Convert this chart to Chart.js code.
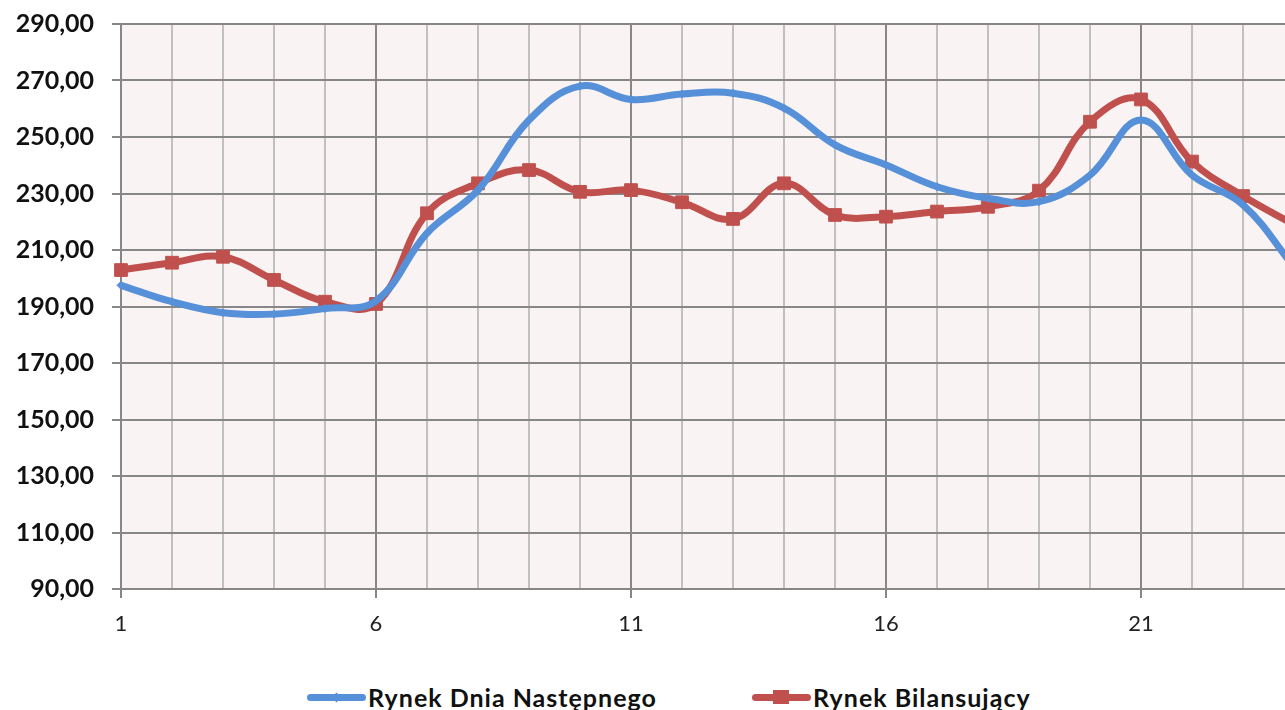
<!DOCTYPE html>
<html>
<head>
<meta charset="utf-8">
<script src="https://cdn.jsdelivr.net/npm/chart.js@4/dist/chart.umd.min.js"></script>
<style>
  html, body { margin: 0; padding: 0; background: #fff; overflow: hidden; }
  #wrap { position: absolute; left: 0; top: 0; width: 1340px; height: 660px; }
  #legend { position: absolute; left: 307px; top: 682px; height: 30px; display: flex;
            font-family: Lato, sans-serif; font-weight: bold; font-size: 25px; letter-spacing: 1px;
            line-height: 30px; color: #111; }
  .item { display: flex; align-items: center; }
  .item:first-child { width: 445px; }
  .sw { position: relative; width: 59px; height: 20px; margin-right: 2px; }
  .sw .ln { position: absolute; left: 0; right: 0; top: 7px; height: 7px; border-radius: 4px; }
  .sw .mk { position: absolute; }
</style>
</head>
<body>
<div id="wrap"><canvas id="lineChart"></canvas></div>
<div id="legend"></div>
<script>
var hours = ["1","2","3","4","5","6","7","8","9","10","11","12","13","14","15","16","17","18","19","20","21","22","23","24"];
var rdnValues = [197.5, 191.7, 187.8, 187.3, 189.3, 192.0, 216.0, 231.2, 256.0, 268.0, 263.3, 265.2, 265.5, 260.2, 247.2, 240.1, 232.4, 228.3, 227.1, 236.5, 256.0, 236.5, 226.0, 204.0];
var rbValues = [202.9, 205.5, 207.6, 199.4, 191.7, 190.9, 223.0, 233.6, 238.3, 230.6, 231.2, 226.9, 221.0, 233.6, 222.4, 221.8, 223.6, 225.3, 231.0, 255.4, 263.3, 241.3, 229.1, 219.0];
var seriesNames = ["Rynek Dnia Następnego", "Rynek Bilansujący"];
var yMin = 90, yMax = 290, yStep = 20;

var blue = "#5590d8";
var red = "#c0504d";
var darkGrid = "#878787";
var lightGrid = "#c0c0c0";

// light pink plot area
var plotBg = {
    id: "plotBg",
    beforeDraw: function (chart) {
        var a = chart.chartArea, c = chart.ctx;
        c.save();
        c.fillStyle = "#f9f3f3";
        c.fillRect(a.left, a.top, a.right - a.left, a.bottom - a.top);
        c.restore();
    }
};

// legend as html, built from the datasets
var htmlLegend = {
    id: "htmlLegend",
    afterUpdate: function (chart) {
        var box = document.getElementById("legend");
        box.innerHTML = "";
        chart.data.datasets.forEach(function (ds) {
            var item = document.createElement("div");
            item.className = "item";
            var sw = document.createElement("div");
            sw.className = "sw";
            var ln = document.createElement("div");
            ln.className = "ln";
            ln.style.background = ds.borderColor;
            var mk = document.createElement("div");
            mk.className = "mk";
            mk.style.background = ds.borderColor;
            if (ds.pointStyle === "rect") {
                mk.style.width = "16px"; mk.style.height = "14px";
                mk.style.left = "21px"; mk.style.top = "3px";
            } else {
                mk.style.width = "7px"; mk.style.height = "7px";
                mk.style.left = "26px"; mk.style.top = "7px";
                mk.style.transform = "rotate(45deg)";
            }
            sw.appendChild(ln);
            sw.appendChild(mk);
            var tx = document.createElement("span");
            tx.textContent = ds.label;
            item.appendChild(sw);
            item.appendChild(tx);
            box.appendChild(item);
        });
    }
};

var lineData = {
    labels: hours,
    datasets: [
        {
            label: seriesNames[0],
            data: rdnValues,
            borderColor: blue,
            backgroundColor: blue,
            pointBackgroundColor: blue,
            pointBorderColor: blue,
            borderWidth: 7,
            pointStyle: "rectRot",
            pointRadius: 4,
            pointBorderWidth: 1,
            tension: 0.4
        },
        {
            label: seriesNames[1],
            data: rbValues,
            borderColor: red,
            backgroundColor: red,
            pointBackgroundColor: red,
            pointBorderColor: red,
            borderWidth: 7,
            pointStyle: "rect",
            pointRadius: 9,
            pointBorderWidth: 1,
            tension: 0.4
        }
    ]
};

var lineOptions = {
    responsive: true,
    maintainAspectRatio: false,
    animation: false,
    layout: { padding: { top: 24, right: 46, left: 0, bottom: 0 } },
    plugins: {
        legend: { display: false },
        tooltip: { enabled: false }
    },
    scales: {
        x: {
            offset: false,
            afterFit: function (s) { s.height = 71; },
            border: { color: darkGrid, width: 2 },
            grid: {
                tickLength: 9,
                lineWidth: 2,
                color: function (ctx) { return ctx.index % 5 === 0 ? darkGrid : lightGrid; },
                tickColor: function (ctx) { return ctx.index % 5 === 0 ? darkGrid : "rgba(0,0,0,0)"; }
            },
            ticks: {
                autoSkip: false,
                maxRotation: 0,
                padding: 13,
                color: "#222",
                font: { family: "Lato", size: 22 },
                callback: function (v, i) { return i % 5 === 0 ? hours[i] : ""; }
            }
        },
        y: {
            min: yMin,
            max: yMax,
            afterFit: function (s) { s.width = 121; },
            border: { color: darkGrid, width: 2 },
            grid: { tickLength: 9, lineWidth: 2, color: darkGrid },
            ticks: {
                stepSize: yStep,
                padding: 18,
                color: "#111",
                font: { family: "Lato", size: 25, weight: "bold", lineHeight: 0.4 },
                callback: function (v) { return v.toFixed(2).replace(".", ","); }
            }
        }
    }
};

var ctx = document.getElementById("lineChart").getContext("2d");
new Chart(ctx, { type: "line", data: lineData, options: lineOptions, plugins: [plotBg, htmlLegend] });
</script>
</body>
</html>
